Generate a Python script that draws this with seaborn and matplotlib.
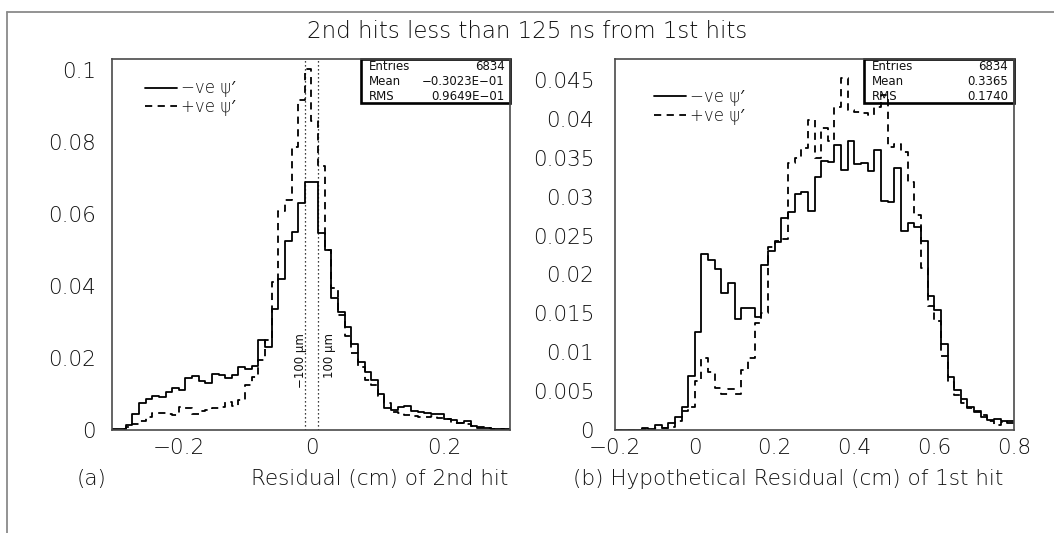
import numpy as np
import pandas as pd
import matplotlib
matplotlib.use("Agg")
import matplotlib.pyplot as plt
from matplotlib.lines import Line2D
from matplotlib.patches import Rectangle
from matplotlib.ticker import FixedLocator, FixedFormatter, MultipleLocator
import seaborn as sns

# ---------------------------------------------------------------- data
# (a) residual of the 2nd hit, 60 bins over [-0.3, 0.3] cm, fraction per bin
resid2_edges = np.linspace(-0.3, 0.3, 61)
resid2_neg = [0.0002, 0.0003, 0.0013, 0.0045, 0.0075, 0.0086, 0.0095, 0.0092, 0.0106, 0.0118,
              0.0112, 0.0145, 0.0150, 0.0136, 0.0131, 0.0155, 0.0153, 0.0145, 0.0152, 0.0175,
              0.0170, 0.0177, 0.0250, 0.0232, 0.0337, 0.0420, 0.0525, 0.0550, 0.0630, 0.0688,
              0.0688, 0.0548, 0.0500, 0.0367, 0.0327, 0.0287, 0.0240, 0.0190, 0.0160, 0.0140,
              0.0100, 0.0060, 0.0057, 0.0063, 0.0068, 0.0053, 0.0049, 0.0046, 0.0045, 0.0044,
              0.0031, 0.0029, 0.0020, 0.0024, 0.0012, 0.0007, 0.0006, 0.0004, 0.0002, 0.0002]
resid2_pos = [0.0000, 0.0002, 0.0008, 0.0018, 0.0026, 0.0037, 0.0046, 0.0046, 0.0045, 0.0043,
              0.0065, 0.0061, 0.0045, 0.0052, 0.0057, 0.0061, 0.0063, 0.0077, 0.0068, 0.0084,
              0.0124, 0.0148, 0.0195, 0.0250, 0.0410, 0.0610, 0.0640, 0.0787, 0.0917, 0.1003,
              0.0860, 0.0735, 0.0500, 0.0395, 0.0320, 0.0260, 0.0215, 0.0175, 0.0140, 0.0125,
              0.0095, 0.0075, 0.0050, 0.0048, 0.0042, 0.0038, 0.0036, 0.0036, 0.0038, 0.0034,
              0.0030, 0.0020, 0.0019, 0.0017, 0.0012, 0.0009, 0.0006, 0.0004, 0.0003, 0.0001]

# (b) hypothetical residual of the 1st hit, 60 bins over [-0.2, 0.8] cm
resid1_edges = np.linspace(-0.2, 0.8, 61)
resid1_neg = [0.0000, 0.0000, 0.0000, 0.0000, 0.0003, 0.0001, 0.0006, 0.0003, 0.0009, 0.0017,
              0.0029, 0.0069, 0.0126, 0.0226, 0.0218, 0.0207, 0.0176, 0.0189, 0.0143, 0.0157,
              0.0157, 0.0145, 0.0212, 0.0230, 0.0242, 0.0272, 0.0280, 0.0303, 0.0306, 0.0282,
              0.0325, 0.0346, 0.0345, 0.0367, 0.0334, 0.0371, 0.0342, 0.0343, 0.0333, 0.0360,
              0.0295, 0.0293, 0.0337, 0.0256, 0.0266, 0.0261, 0.0243, 0.0172, 0.0154, 0.0111,
              0.0068, 0.0052, 0.0040, 0.0030, 0.0023, 0.0017, 0.0013, 0.0014, 0.0012, 0.0009]
resid1_pos = [0.0000, 0.0000, 0.0000, 0.0000, 0.0001, 0.0000, 0.0003, 0.0003, 0.0004, 0.0012,
              0.0025, 0.0030, 0.0063, 0.0092, 0.0074, 0.0054, 0.0046, 0.0053, 0.0046, 0.0077,
              0.0093, 0.0138, 0.0150, 0.0235, 0.0243, 0.0245, 0.0343, 0.0350, 0.0362, 0.0398,
              0.0350, 0.0388, 0.0372, 0.0415, 0.0452, 0.0411, 0.0409, 0.0407, 0.0405, 0.0415,
              0.0430, 0.0364, 0.0368, 0.0357, 0.0319, 0.0276, 0.0208, 0.0160, 0.0140, 0.0095,
              0.0062, 0.0045, 0.0035, 0.0028, 0.0024, 0.0019, 0.0012, 0.0006, 0.0010, 0.0012]

series_labels = ["\u2212ve \u03c8\u2032", "+ve \u03c8\u2032"]

stats_a = [("Entries", "6834"), ("Mean", "\u22120.3023E\u221201"), ("RMS", "0.9649E\u221201")]
stats_b = [("Entries", "6834"), ("Mean", "0.3365"), ("RMS", "0.1740")]

xticks_a = [-0.2, 0.0, 0.2]
xlabels_a = ["\u22120.2", "0", "0.2"]
yticks_a = [0.0, 0.02, 0.04, 0.06, 0.08, 0.1]
ylabels_a = ["0", "0.02", "0.04", "0.06", "0.08", "0.1"]
xticks_b = [-0.2, 0.0, 0.2, 0.4, 0.6, 0.8]
xlabels_b = ["\u22120.2", "0", "0.2", "0.4", "0.6", "0.8"]
yticks_b = [0.0, 0.005, 0.01, 0.015, 0.02, 0.025, 0.03, 0.035, 0.04, 0.045]
ylabels_b = ["0", "0.005", "0.01", "0.015", "0.02", "0.025", "0.03", "0.035", "0.04", "0.045"]

cut_lines = [-0.01, 0.01]
cut_texts = ["\u2212100 \u03bcm", "100 \u03bcm"]

# ---------------------------------------------------------------- style
sns.set_style("white")
plt.rcParams.update({
    "font.family": ["DejaVu Sans", "Noto Sans", "DejaVu Sans Mono"],
    "font.weight": "light",
    "axes.edgecolor": "#4a4a4a",
    "axes.linewidth": 1.2,
    "xtick.direction": "in",
    "ytick.direction": "in",
    "xtick.color": "#3a3a3a",
    "ytick.color": "#3a3a3a",
    "xtick.labelcolor": "#111111",
    "ytick.labelcolor": "#111111",
    "text.color": "#111111",
})

FRAME = "#8a8a8a"
LW = 1.3
DASH = (0, (4.0, 3.0))

fig = plt.figure(figsize=(10.54, 5.33), dpi=100)
ax_a = fig.add_axes([0.1067, 0.1932, 0.3776, 0.6961])
ax_b = fig.add_axes([0.5835, 0.1932, 0.3786, 0.6961])


def draw_hist(ax, edges, neg, pos):
    centers = 0.5 * (edges[:-1] + edges[1:])
    for vals, ls in ((neg, "-"), (pos, DASH)):
        frame = pd.DataFrame({"residual": centers, "fraction": np.asarray(vals, float)})
        sns.histplot(data=frame, x="residual", weights="fraction", bins=list(edges),
                     element="step", fill=False, color="black", linewidth=LW,
                     linestyle=ls, ax=ax)
    ax.set_xlabel("")
    ax.set_ylabel("")


def stat_box(ax, rows):
    x0, y0 = 0.624, 0.882
    ax.add_patch(Rectangle((x0, y0), 1 - x0, 1 - y0, transform=ax.transAxes,
                           facecolor="white", edgecolor="black", linewidth=1.9,
                           zorder=1.5, clip_on=False))
    for i, (name, val) in enumerate(rows):
        y = 0.979 - i * 0.0405
        ax.text(x0 + 0.02, y, name, transform=ax.transAxes, fontsize=8.5,
                fontweight="normal", ha="left", va="center", zorder=3)
        ax.text(0.985, y, val, transform=ax.transAxes, fontsize=8.5,
                fontweight="normal", ha="right", va="center", zorder=3)


def style_axis(ax, xlim, ylim, xt, xl, yt, yl, xminor, yminor, ylen, ypad):
    ax.set_xlim(*xlim)
    ax.set_ylim(*ylim)
    ax.xaxis.set_major_locator(FixedLocator(xt))
    ax.xaxis.set_major_formatter(FixedFormatter(xl))
    ax.xaxis.set_minor_locator(MultipleLocator(xminor))
    ax.yaxis.set_major_locator(FixedLocator(yt))
    ax.yaxis.set_major_formatter(FixedFormatter(yl))
    ax.yaxis.set_minor_locator(MultipleLocator(yminor))
    ax.tick_params(axis="x", which="major", length=8.5, width=1.0, pad=6, labelsize=15.5)
    ax.tick_params(axis="x", which="minor", length=5.0, width=1.0)
    ax.tick_params(axis="y", which="major", length=ylen, width=1.0, pad=ypad, labelsize=15.5)
    ax.tick_params(axis="y", which="minor", length=5.5, width=1.0)
    ax.tick_params(top=False, right=False, which="both")
    for sp in ax.spines.values():
        sp.set_visible(True)
        sp.set_color("#4a4a4a")


def legend(ax, anchor):
    handles = [Line2D([], [], color="black", lw=LW),
               Line2D([], [], color="black", lw=LW, linestyle=DASH)]
    ax.legend(handles, series_labels, loc="upper left", bbox_to_anchor=anchor,
              frameon=False, fontsize=12, handlelength=1.9, handletextpad=0.25,
              labelspacing=0.05, borderpad=0, borderaxespad=0)


# (a)
draw_hist(ax_a, resid2_edges, resid2_neg, resid2_pos)
style_axis(ax_a, (-0.3, 0.3), (0, 0.1031), xticks_a, xlabels_a, yticks_a, ylabels_a,
           0.05, 0.005, 11.5, 12)
for xc in cut_lines:
    ax_a.axvline(xc, color="black", linestyle=(0, (1, 2.2)), linewidth=0.9, zorder=1.8)
ax_a.text(-0.0165, 0.0194, cut_texts[0], rotation=90, fontsize=8.5, fontweight="normal",
          ha="center", va="center")
ax_a.text(0.0268, 0.0206, cut_texts[1], rotation=90, fontsize=8.5, fontweight="normal",
          ha="center", va="center")
stat_box(ax_a, stats_a)
legend(ax_a, (0.082, 0.945))

# (b)
draw_hist(ax_b, resid1_edges, resid1_neg, resid1_pos)
style_axis(ax_b, (-0.2, 0.8), (0, 0.04769), xticks_b, xlabels_b, yticks_b, ylabels_b,
           0.05, 0.001, 12.0, 15)
stat_box(ax_b, stats_b)
legend(ax_b, (0.098, 0.921))

# titles and axis captions
fig.text(0.5, 0.94, "2nd hits less than 125 ns from 1st hits", ha="center", va="center",
         fontsize=16.5)
fig.text(0.0873, 0.1013, "(a)", ha="center", va="center", fontsize=15.5)
fig.text(0.482, 0.1013, "Residual (cm) of 2nd hit", ha="right", va="center", fontsize=15.5)
fig.text(0.5436, 0.1013, "(b) Hypothetical Residual (cm) of 1st hit", ha="left", va="center",
         fontsize=15.5)

# page frame
fig.add_artist(Line2D([7 / 1054, 1.0], [1 - 12 / 533, 1 - 12 / 533], transform=fig.transFigure,
                      color=FRAME, linewidth=1.3))
fig.add_artist(Line2D([7 / 1054, 7 / 1054], [0.0, 1 - 12 / 533], transform=fig.transFigure,
                      color=FRAME, linewidth=1.3))

fig.savefig("out.png", dpi=100, facecolor="white")
